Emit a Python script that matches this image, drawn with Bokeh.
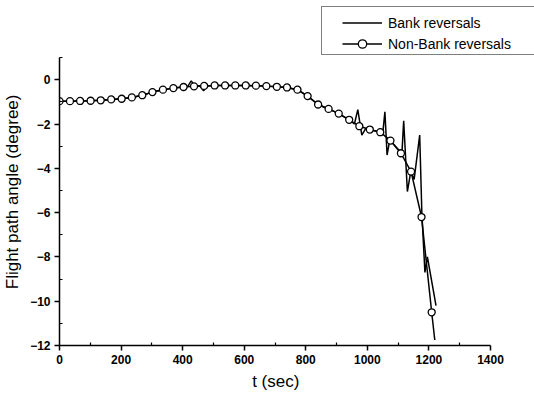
from bokeh.plotting import figure
from bokeh.models import Range1d, Legend, LegendItem, FixedTicker
from bokeh.embed import file_html
from bokeh.resources import INLINE

# Non-bank-reversal trajectory: sampled points shown with open circles
nb_t = [0, 34, 67, 101, 134, 168, 202, 235, 269, 302, 336, 370, 403, 437, 470,
        504, 538, 571, 605, 638, 672, 706, 739, 773, 806, 840, 874, 907, 941,
        974, 1008, 1042, 1075, 1109, 1142, 1176, 1209]
nb_gamma = [-0.97, -0.97, -0.96, -0.95, -0.93, -0.89, -0.86, -0.80, -0.70, -0.56,
            -0.45, -0.38, -0.33, -0.30, -0.28, -0.26, -0.26, -0.26, -0.26, -0.27,
            -0.29, -0.32, -0.35, -0.45, -0.74, -1.12, -1.32, -1.53, -1.81, -2.10,
            -2.25, -2.37, -2.75, -3.32, -4.15, -6.20, -10.50]
# final segment of the non-bank trajectory after the last sample
nb_tail_t = [1209, 1219]
nb_tail_gamma = [-10.50, -11.75]

# Bank-reversal trajectory (solid line)
bank_t = [0, 34, 67, 101, 134, 168, 202, 235, 269, 302, 336, 370, 403,
          416, 428, 440, 455, 468, 480,
          504, 538, 571, 605, 638, 672, 706, 739, 773, 806, 840, 874, 907, 941,
          958, 969, 982, 995, 1008,
          1042, 1050, 1057, 1064, 1073,
          1107, 1112, 1118, 1130, 1141,
          1152, 1170, 1177, 1187, 1195, 1223]
bank_gamma = [-0.97, -0.97, -0.96, -0.95, -0.93, -0.89, -0.86, -0.80, -0.70, -0.56,
              -0.45, -0.38, -0.33,
              -0.31, -0.05, -0.30, -0.27, -0.50, -0.28,
              -0.26, -0.26, -0.26, -0.26, -0.27, -0.29, -0.32, -0.35, -0.45, -0.74,
              -1.12, -1.32, -1.53, -1.81,
              -2.00, -1.35, -2.50, -2.20, -2.25,
              -2.37, -2.42, -1.45, -3.40, -2.72,
              -3.25, -3.40, -1.85, -5.05, -4.15,
              -4.50, -2.50, -6.00, -8.70, -8.00, -10.20]

x_ticks = [0, 200, 400, 600, 800, 1000, 1200, 1400]
x_minor = [100, 300, 500, 700, 900, 1100, 1300]
y_ticks = [-12, -10, -8, -6, -4, -2, 0]
y_minor = [-11, -9, -7, -5, -3, -1, 1]

FONT = "Liberation Sans"
NBSP = "\u00a0"

W, H = 534, 396
LEFT, BOTTOM = 59, 51            # space for the axes
AX_RIGHT_PX, ZERO_PX = 490, 79.2  # where t=1400 and gamma=0 sit on the canvas

# The frame runs to the top and right edges so the key can sit above the axes;
# the axes themselves are bounded to the data extent.
frame_w = W - LEFT
frame_h = H - BOTTOM
x_end = 1400 * frame_w / (AX_RIGHT_PX - LEFT)
px_per_deg = (frame_h - ZERO_PX) / 12.0
y_end = ZERO_PX / px_per_deg

p = figure(width=W, height=H, output_backend="svg", toolbar_location=None,
           x_range=Range1d(0, x_end), y_range=Range1d(-12, y_end),
           min_border_left=LEFT, min_border_right=0,
           min_border_top=0, min_border_bottom=BOTTOM)
p.outline_line_color = None
p.xgrid.visible = False
p.ygrid.visible = False
p.background_fill_color = "white"

p.xaxis.ticker = FixedTicker(ticks=x_ticks, minor_ticks=x_minor)
p.yaxis.ticker = FixedTicker(ticks=y_ticks, minor_ticks=y_minor)
p.xaxis.bounds = (0, 1400)
p.yaxis.bounds = (-12, 1)
# trailing no-break spaces keep each title centred on the bounded axis
p.xaxis.axis_label = "t (sec)" + NBSP * 9
p.yaxis.axis_label = "Flight path angle (degree)" + NBSP * 8

for ax in (p.xaxis[0], p.yaxis[0]):
    ax.axis_line_color = "black"
    ax.axis_line_width = 1.5
    ax.major_tick_line_color = "black"
    ax.major_tick_line_width = 1.5
    ax.major_tick_out = 5
    ax.major_tick_in = 0
    ax.minor_tick_line_color = "black"
    ax.minor_tick_line_width = 1.2
    ax.minor_tick_out = 0
    ax.minor_tick_in = 3
    ax.major_label_text_font = FONT
    ax.major_label_text_font_style = "bold"
    ax.major_label_text_font_size = "12px"
    ax.major_label_text_color = "black"
    ax.major_label_standoff = 4
    ax.axis_label_text_font = FONT
    ax.axis_label_text_font_style = "normal"
    ax.axis_label_text_font_size = "17px"
    ax.axis_label_text_color = "black"
p.xaxis.axis_label_standoff = 5
p.yaxis.axis_label_standoff = 5

bank = p.line(bank_t, bank_gamma, line_color="black", line_width=1.5)
p.line(nb_tail_t, nb_tail_gamma, line_color="black", line_width=1.5)
nb_line = p.line(nb_t, nb_gamma, line_color="black", line_width=1.5)
nb_pts = p.scatter(nb_t, nb_gamma, marker="circle", size=7,
                   fill_color="white", line_color="black", line_width=1.3)

# outer box of the key: a single invisible entry sized to the box
stub = p.line(x=[], y=[], line_alpha=0)
key_frame = Legend(
    items=[LegendItem(label=" ", renderers=[stub])],
    location=(262, 290),
    padding=0, spacing=0, margin=0,
    glyph_width=225, glyph_height=47, label_height=47, label_standoff=0,
    label_text_font_size="14px", label_text_alpha=0,
    border_line_color="black", border_line_width=1,
    background_fill_color="white", background_fill_alpha=1,
)

# key entries
legend = Legend(
    items=[LegendItem(label="Bank reversals", renderers=[bank]),
           LegendItem(label="Non-Bank reversals", renderers=[nb_line, nb_pts])],
    location=(283, 291),
    padding=5, spacing=0, margin=0,
    glyph_width=40, glyph_height=21, label_height=21, label_standoff=6,
    label_text_font=FONT, label_text_font_size="14px", label_text_color="black",
    border_line_color=None, background_fill_alpha=0,
)
p.add_layout(key_frame)
p.add_layout(legend)

open("out.html", "w").write(file_html(p, INLINE))
